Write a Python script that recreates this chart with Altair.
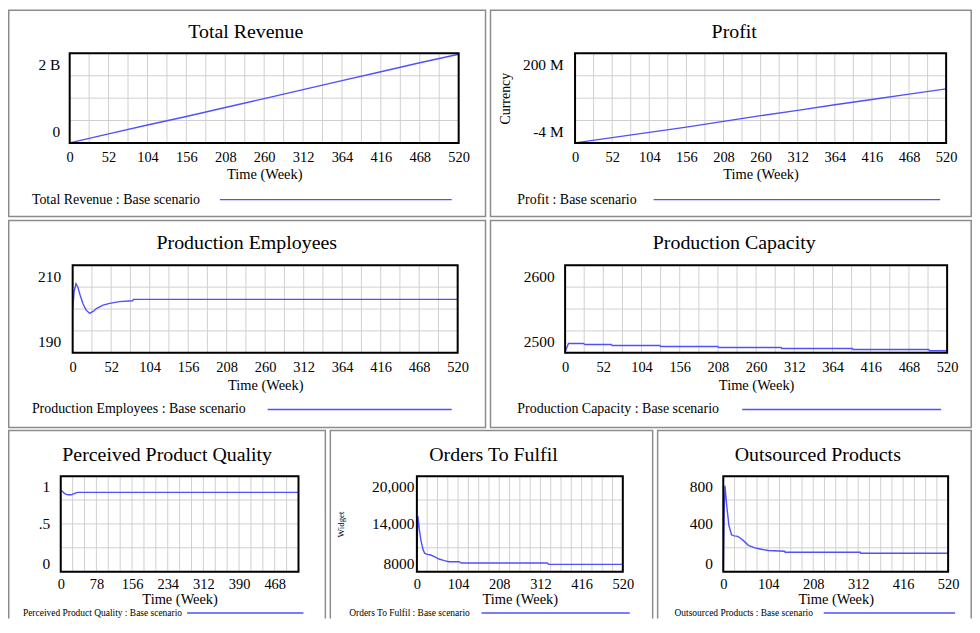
import altair as alt
import pandas as pd

FONT = "Liberation Serif"
BLUE = "#5050ff"
FRAME_GREY = "#8c8c8c"
GRID_GREY = "#d0d0d0"

W, H = 969, 612          # one drawing surface for the whole dashboard
WEEKS_GRID = list(range(0, 521, 26))

# ---------------- data (Time in weeks) ----------------
revenue_t = [0, 52, 104, 156, 208, 260, 312, 364, 416, 468, 520]
revenue_v = [0, 0.20e9, 0.40e9, 0.59e9, 0.79e9, 0.99e9, 1.19e9, 1.39e9, 1.59e9, 1.79e9, 1.98e9]
revenue_yticks = [0, 0.5e9, 1.0e9, 1.5e9, 2.0e9]
revenue_ylabels = ["0", "", "", "", "2 B"]

profit_t = [0, 52, 104, 156, 208, 260, 312, 364, 416, 468, 520]
profit_v = [-4e6, 8e6, 20e6, 32e6, 45e6, 58e6, 70e6, 83e6, 95e6, 107e6, 119e6]
profit_yticks = [-4e6, 47e6, 98e6, 149e6, 200e6]
profit_ylabels = ["-4 M", "", "", "", "200 M"]

employees_t = [0, 2, 4.5, 7, 10, 14, 18, 23, 28, 32, 41, 50, 63, 81, 82, 520]
employees_v = [200, 204, 205.8, 205, 203.2, 201.2, 199.8, 199.0, 199.5, 200.1, 200.9, 201.3, 201.7, 201.9, 202.2, 202.2]
employees_yticks = [190, 195, 200, 205, 210]
employees_ylabels = ["190", "", "", "", "210"]

capacity_t = [0, 4.5, 25, 27, 63, 64, 129, 130, 208, 209, 294, 295, 391, 392, 495, 496, 520]
capacity_v = [2501, 2510.6, 2510.6, 2509.5, 2509.5, 2508.4, 2508.4, 2507.2, 2507.2, 2506.1,
              2506.1, 2504.9, 2504.9, 2503.8, 2503.8, 2502.3, 2502.3]
capacity_yticks = [2500, 2525, 2550, 2575, 2600]
capacity_ylabels = ["2500", "", "", "", "2600"]

quality_t = [0, 4, 8, 12, 16, 23, 28, 33, 38, 520]
quality_v = [0.85, 0.84, 0.82, 0.81, 0.805, 0.805, 0.815, 0.825, 0.83, 0.83]
quality_yticks = [0, 0.25, 0.5, 0.75, 1]
quality_ylabels = ["0", "", ".5", "", "1"]

orders_t = [0, 1, 2.5, 6, 10, 16, 20, 27, 35, 44, 56, 69, 81, 107, 112, 329, 333, 520]
orders_v = [8700, 12000, 15000, 13400, 11970, 10700, 10300, 10170, 10090, 9880, 9590, 9380,
            9250, 9250, 9090, 9090, 8920, 8920]
orders_yticks = [8000, 11000, 14000, 17000, 20000]
orders_ylabels = ["8000", "", "14,000", "", "20,000"]

outsourced_t = [0, 2, 4, 8, 13, 19, 25, 31, 36, 46, 58, 73, 88, 104, 142, 143, 317, 318, 520]
outsourced_v = [0, 500, 720, 552, 386, 309, 300, 298, 290, 262, 221, 199, 188, 177, 171, 163, 163, 154, 154]
outsourced_yticks = [0, 200, 400, 600, 800]
outsourced_ylabels = ["0", "", "400", "", "800"]

ONE = alt.Data(values=[{"k": 0}])


def label_expr(ticks, labels):
    parts = [f"datum.value == {float(t)!r} ? '{l}'" for t, l in zip(ticks, labels) if l]
    return " : ".join(parts) + " : ''"


def label_offset(ticks, top_off, bot_off):
    return {
        "condition": [
            {"test": f"datum.value == {float(ticks[-1])!r}", "value": top_off},
            {"test": f"datum.value == {float(ticks[0])!r}", "value": bot_off},
        ],
        "value": 0,
    }


def plot(t, v, yticks, ylabels, *, px0, px1, py0, py1, xevery, xmax_label, ypad, yoff_top, yoff_bot,
         xlabel_pad, xtitle_y, ytitle=None, ytitle_x=0, ytitle_size=14):
    df = pd.DataFrame({"Time": t, "Value": v})

    def xs():
        return alt.Scale(domain=[0, 520], range=[px0, px1], nice=False, zero=False)

    def ys():
        return alt.Scale(domain=[yticks[0], yticks[-1]], range=[py1, py0], nice=False, zero=False)

    xexpr = f"datum.value % {xevery} == 0 && datum.value <= {xmax_label} ? datum.label : ''"
    x_axis = alt.Axis(orient="bottom", offset=py1 - H, values=WEEKS_GRID, labelExpr=xexpr,
                      title="Time (Week)", titleX=(px0 + px1) / 2, titleY=xtitle_y, titleAlign="center",
                      titleBaseline="middle", titleFontSize=14.5, labelFontSize=14.5,
                      labelPadding=xlabel_pad, labelAngle=0, grid=False)
    ykw = dict(orient="left", offset=-px0, values=yticks, labelExpr=label_expr(yticks, ylabels),
               labelFontSize=15.5, labelPadding=ypad, grid=False,
               labelOffset=label_offset(yticks, yoff_top, yoff_bot))
    if ytitle:
        ykw.update(title=ytitle, titleX=ytitle_x, titleY=(py0 + py1) / 2, titleAngle=270,
                   titleAlign="center", titleBaseline="middle", titleFontSize=ytitle_size)
    else:
        ykw["title"] = None

    vgrid = alt.Chart(pd.DataFrame({"Time": WEEKS_GRID})).mark_rule(color=GRID_GREY, strokeWidth=1).encode(
        x=alt.X("Time:Q", scale=xs(), axis=None),
        y=alt.YDatum(yticks[0], scale=ys(), axis=None), y2=alt.Y2Datum(yticks[-1]))
    hgrid = alt.Chart(pd.DataFrame({"Value": yticks})).mark_rule(color=GRID_GREY, strokeWidth=1).encode(
        y=alt.Y("Value:Q", scale=ys(), axis=None),
        x=alt.XDatum(0, scale=xs(), axis=None), x2=alt.X2Datum(520))
    line = alt.Chart(df).mark_line(color=BLUE, strokeWidth=1.4).encode(
        x=alt.X("Time:Q", scale=xs(), axis=x_axis),
        y=alt.Y("Value:Q", scale=ys(), axis=alt.Axis(**ykw)))
    frame = alt.Chart(ONE).mark_rect(fillOpacity=0, stroke="black", strokeWidth=2).encode(
        x=alt.XDatum(0, scale=xs(), axis=None), x2=alt.X2Datum(520),
        y=alt.YDatum(yticks[0], scale=ys(), axis=None), y2=alt.Y2Datum(yticks[-1]))
    return [hgrid, vgrid, line, frame]


def decorations(*, border, clip_bottom, title, title_xy, legend, legend_xy, legend_size, rule_x):
    bx0, bx1, by0, by1 = border
    return [
        alt.Chart(ONE).mark_rect(fillOpacity=0, stroke=FRAME_GREY, strokeWidth=1.5, clip=clip_bottom).encode(
            x=alt.value(bx0), x2=alt.value(bx1), y=alt.value(by0), y2=alt.value(by1)),
        alt.Chart(ONE).mark_text(font=FONT, fontSize=20, align="center", baseline="middle",
                                 color="black").encode(
            x=alt.value(title_xy[0]), y=alt.value(title_xy[1]), text=alt.value(title)),
        alt.Chart(ONE).mark_text(font=FONT, fontSize=legend_size, align="left", baseline="middle",
                                 color="black").encode(
            x=alt.value(legend_xy[0]), y=alt.value(legend_xy[1]), text=alt.value(legend)),
        alt.Chart(ONE).mark_rule(color=BLUE, strokeWidth=1.4).encode(
            x=alt.value(rule_x[0]), x2=alt.value(rule_x[1]), y=alt.value(legend_xy[1])),
    ]


layers = []

# Row 1 -----------------------------------------------------------------
layers += decorations(border=(0.75, 480, 0.75, 208), clip_bottom=False, title="Total Revenue",
                      title_xy=(239, 23), legend="Total Revenue : Base scenario", legend_xy=(24, 191),
                      legend_size=14, rule_x=(213, 446))
layers += plot(revenue_t, revenue_v, revenue_yticks, revenue_ylabels, px0=62, px1=453, py0=44, py1=134,
               xevery=52, xmax_label=520, ypad=10, yoff_top=11, yoff_bot=-11.5, xlabel_pad=7.5, xtitle_y=32)

layers += decorations(border=(485, 968.2, 0.75, 208), clip_bottom=False, title="Profit",
                      title_xy=(730, 23), legend="Profit : Base scenario", legend_xy=(512, 191),
                      legend_size=14, rule_x=(649, 937))
layers += plot(profit_t, profit_v, profit_yticks, profit_ylabels, px0=570, px1=943, py0=44, py1=134,
               xevery=52, xmax_label=520, ypad=12, yoff_top=11, yoff_bot=-11.5, xlabel_pad=7.5, xtitle_y=32,
               ytitle="Currency", ytitle_x=-70, ytitle_size=14)

# Row 2 -----------------------------------------------------------------
layers += decorations(border=(0.75, 480, 212, 420), clip_bottom=False, title="Production Employees",
                      title_xy=(240, 235), legend="Production Employees : Base scenario", legend_xy=(24, 402),
                      legend_size=14, rule_x=(261, 446))
layers += plot(employees_t, employees_v, employees_yticks, employees_ylabels, px0=65, px1=452, py0=257,
               py1=345, xevery=52, xmax_label=520, ypad=12, yoff_top=11, yoff_bot=-11, xlabel_pad=7.5,
               xtitle_y=33)

layers += decorations(border=(485, 968.2, 212, 420), clip_bottom=False, title="Production Capacity",
                      title_xy=(730, 235), legend="Production Capacity : Base scenario", legend_xy=(512, 402),
                      legend_size=14, rule_x=(738, 938))
layers += plot(capacity_t, capacity_v, capacity_yticks, capacity_ylabels, px0=560, px1=944, py0=257,
               py1=345, xevery=52, xmax_label=520, ypad=11, yoff_top=11, yoff_bot=-11, xlabel_pad=7.5,
               xtitle_y=33)

# Row 3 -----------------------------------------------------------------
ROW3_LEGEND_Y = 606.5
layers += decorations(border=(0.75, 319, 423, H + 10), clip_bottom=True, title="Perceived Product Quality",
                      title_xy=(160, 448), legend="Perceived Product Quality : Base scenario",
                      legend_xy=(15, ROW3_LEGEND_Y), legend_size=9.5, rule_x=(180, 297))
layers += plot(quality_t, quality_v, quality_yticks, quality_ylabels, px0=53, px1=292, py0=469, py1=565,
               xevery=78, xmax_label=500, ypad=11, yoff_top=10.5, yoff_bot=-8, xlabel_pad=6,
               xtitle_y=28)

layers += decorations(border=(324, 648, 423, H + 10), clip_bottom=True, title="Orders To Fulfil",
                      title_xy=(488, 448), legend="Orders To Fulfil : Base scenario",
                      legend_xy=(343, ROW3_LEGEND_Y), legend_size=9.5, rule_x=(476, 625))
layers += plot(orders_t, orders_v, orders_yticks, orders_ylabels, px0=411, px1=618, py0=469, py1=565,
               xevery=104, xmax_label=520, ypad=3, yoff_top=10.5, yoff_bot=-8, xlabel_pad=6,
               xtitle_y=28, ytitle="Widget", ytitle_x=-77, ytitle_size=9)

layers += decorations(border=(653, 968.2, 423, H + 10), clip_bottom=True, title="Outsourced Products",
                      title_xy=(814, 447.5), legend="Outsourced Products : Base scenario",
                      legend_xy=(670, ROW3_LEGEND_Y), legend_size=9.5, rule_x=(820, 952))
layers += plot(outsourced_t, outsourced_v, outsourced_yticks, outsourced_ylabels, px0=719, px1=945,
               py0=469, py1=565, xevery=104, xmax_label=520, ypad=11, yoff_top=10.5, yoff_bot=-8,
               xlabel_pad=6, xtitle_y=28)

chart = (
    alt.layer(*layers)
    .resolve_scale(x="independent", y="independent")
    .resolve_axis(x="independent", y="independent")
    .properties(width=W, height=H, padding=0, background="white")
    .configure_view(stroke=None)
    .configure_axis(labelFont=FONT, titleFont=FONT, labelColor="black", titleColor="black",
                    domain=False, ticks=False, tickSize=0, titleFontWeight="normal",
                    labelFlush=False, labelOverlap=False)
)

chart.save("out.html", embed_options={"renderer": "svg", "actions": False})
